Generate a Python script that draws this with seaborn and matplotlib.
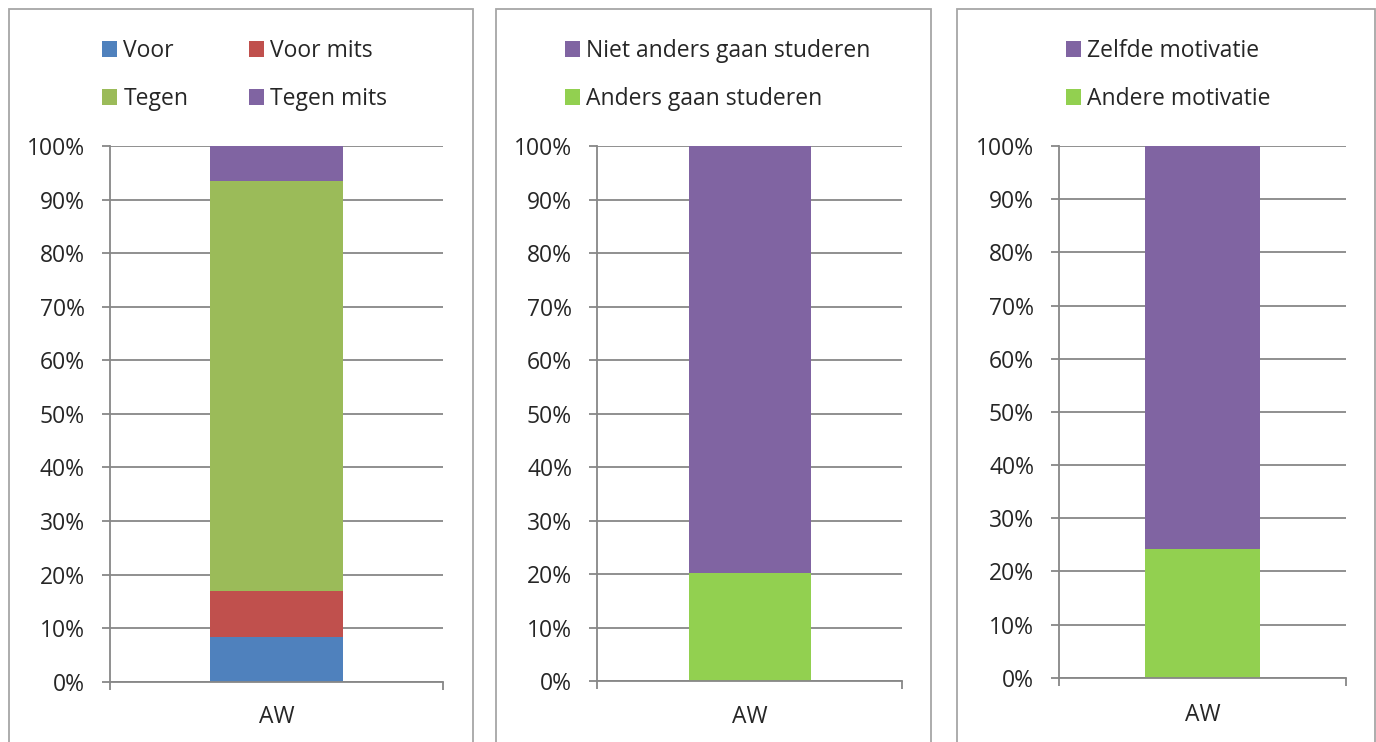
import matplotlib
matplotlib.use("Agg")
import matplotlib.pyplot as plt
import seaborn as sns
import pandas as pd
import numpy as np
from matplotlib.patches import Rectangle, Patch
from matplotlib.ticker import PercentFormatter

# ---------------- data ----------------
categories = ["AW"]
yticks = [0, 10, 20, 30, 40, 50, 60, 70, 80, 90, 100]

p1_labels = ["Voor", "Voor mits", "Tegen", "Tegen mits"]
p1_values = [8.3, 8.6, 76.6, 6.5]
p1_colors = ["#4F81BD", "#C0504D", "#9BBB59", "#8064A2"]

p2_labels = ["Anders gaan studeren", "Niet anders gaan studeren"]
p2_values = [20.2, 79.8]
p2_colors = ["#92D050", "#8064A2"]

p3_labels = ["Andere motivatie", "Zelfde motivatie"]
p3_values = [24.2, 75.8]
p3_colors = ["#92D050", "#8064A2"]

# ---------------- style ----------------
sns.set_style("white")
plt.rcParams["font.family"] = ["Open Sans", "DejaVu Sans"]
FS = 16.5
GRAY = "#878787"
FRAME = "#A6A6A6"

W, H = 1376, 742
fig = plt.figure(figsize=(W / 100, H / 100), dpi=100)

def px(x, y, w, h):
    return [x / W, 1 - (y + h) / H, w / W, h / H]

def draw_panel(rect, labels, values, colors, xpad, leg_handles_order, leg_ncol,
               leg_xy, colspace):
    ax = fig.add_axes(rect)
    cum = np.cumsum(values)
    df = pd.DataFrame({"cat": categories * len(labels), "label": labels, "cum": cum})
    order = list(labels)[::-1]  # largest cumulative first, drawn underneath
    pal = dict(zip(labels, colors))
    sns.barplot(data=df, x="cat", y="cum", hue="label", hue_order=order,
                palette=pal, dodge=False, width=0.4, saturation=1,
                linewidth=0, errorbar=None, legend=False, ax=ax)
    ax.set_xlim(-0.5, 0.5)
    ax.set_ylim(0, 100)
    ax.set_yticks(yticks)
    ax.yaxis.set_major_formatter(PercentFormatter(decimals=0))
    ax.set_xticks([0], categories)
    ax.set_xticks([-0.5, 0.5], minor=True)
    ax.set_xlabel("")
    ax.set_ylabel("")
    for s in ["top", "right"]:
        ax.spines[s].set_visible(False)
    for s in ["left", "bottom"]:
        ax.spines[s].set_color(GRAY)
        ax.spines[s].set_linewidth(1.3)
    ax.grid(axis="y", color=GRAY, linewidth=1.3)
    ax.set_axisbelow(True)
    ax.tick_params(axis="y", which="major", direction="out", length=6, width=1.3,
                   color=GRAY, pad=12, labelsize=FS, left=True)
    ax.tick_params(axis="x", which="major", length=0, pad=xpad, labelsize=FS,
                   bottom=True)
    ax.tick_params(axis="x", which="minor", direction="out", length=6, width=1.3,
                   color=GRAY, bottom=True)
    handles = [Patch(facecolor=pal[l], edgecolor="none") for l in leg_handles_order]
    fig.legend(handles, leg_handles_order, loc="upper left",
               bbox_to_anchor=(leg_xy[0] / W, 1 - leg_xy[1] / H),
               bbox_transform=fig.transFigure, ncol=leg_ncol, frameon=False,
               fontsize=FS, borderpad=0, borderaxespad=0, handlelength=0.66,
               handleheight=0.66, handletextpad=0.27, labelspacing=1.05,
               columnspacing=colspace)
    return ax

# frames around each chart
for (x0, x1) in [(9, 473), (496, 931), (957, 1375)]:
    fig.patches.append(Rectangle((x0 / W, -0.05), (x1 - x0) / W, 1.05 - 9 / H,
                                 transform=fig.transFigure, fill=False,
                                 edgecolor=FRAME, linewidth=1.3))

draw_panel(px(110, 146, 333, 535.7), p1_labels, p1_values, p1_colors, 17,
           ["Voor", "Tegen", "Voor mits", "Tegen mits"], 2, (102, 39), 2.65)
draw_panel(px(597, 146, 305, 535.3), p2_labels, p2_values, p2_colors, 17,
           ["Niet anders gaan studeren", "Anders gaan studeren"], 1, (565, 39), 1)
draw_panel(px(1059, 146, 287, 531.7), p3_labels, p3_values, p3_colors, 18,
           ["Zelfde motivatie", "Andere motivatie"], 1, (1066, 39), 1)

fig.savefig("out.png", dpi=100, facecolor="white")
